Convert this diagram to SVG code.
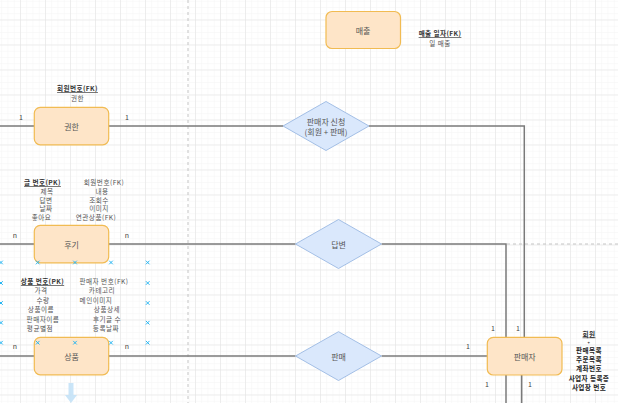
<svg xmlns="http://www.w3.org/2000/svg" width="618" height="403" viewBox="0 0 618 403">
<style>
text{font-family:"Noto Sans CJK KR","Noto Sans",sans-serif;text-anchor:middle;dominant-baseline:central}
.ent{fill:#fee5c8;stroke:#f1bb52;stroke-width:1.2}
.rel{fill:#dae8fc;stroke:#a3bfe6;stroke-width:1}
.nt{font-size:8px;fill:#555}
.at{font-size:6.6px;fill:#555;letter-spacing:0.5px}
.hd{font-size:6.6px;fill:#333;font-weight:bold;text-decoration:underline;letter-spacing:0.4px}
.bk{font-size:6.6px;fill:#222;font-weight:bold;letter-spacing:0.4px}
.card{font-size:7px;fill:#444}
.con{fill:none;stroke:#7a7a7a;stroke-width:1.5}
.dash{fill:none;stroke:#c4c4c4;stroke-width:1;stroke-dasharray:3 3}
.mk{stroke:#29b6f2;stroke-width:1;fill:none}
</style>
<defs>
<pattern id="gmin" width="6.25" height="6.25" patternUnits="userSpaceOnUse" x="20" y="19.5"><path d="M0 0H6.25M0 0V6.25" fill="none" stroke="#f1f1f1" stroke-width="0.8"/></pattern>
<pattern id="gmaj" width="25" height="25" patternUnits="userSpaceOnUse" x="20" y="19.5"><path d="M0 0H25M0 0V25" fill="none" stroke="#e2e2e2" stroke-width="1"/></pattern>
<path id="x" class="mk" d="M-1.8 -1.8L1.8 1.8M-1.8 1.8L1.8 -1.8"/>
</defs>
<rect width="618" height="403" fill="#fff"/>
<rect width="618" height="403" fill="url(#gmin)"/>
<rect width="618" height="403" fill="url(#gmaj)"/>
<line class="dash" x1="188" y1="0" x2="188" y2="403"/>
<line class="dash" x1="507" y1="244" x2="618" y2="244"/>

<g id="connectors">
<path class="con" d="M0 126H34"/>
<path class="con" d="M108.5 126H283"/>
<path class="con" d="M369 126H524.3V337.5"/>
<path class="con" d="M0 244H34"/>
<path class="con" d="M108.5 244H295.5"/>
<path class="con" d="M381.5 244H506V337.5"/>
<path class="con" d="M0 356H34"/>
<path class="con" d="M108.5 356H295.5"/>
<path class="con" d="M381.5 356H487.5"/>
<path class="con" d="M506 375V403"/>
<path class="con" d="M521.7 375V403"/>
<text class="card" x="21" y="117">1</text>
<text class="card" x="127" y="117">1</text>
<text class="card" x="15" y="235">n</text>
<text class="card" x="127" y="235">n</text>
<text class="card" x="15" y="346">n</text>
<text class="card" x="127" y="346">n</text>
<text class="card" x="468" y="346">1</text>
<text class="card" x="493" y="328">1</text>
<text class="card" x="518" y="328">1</text>
<text class="card" x="487" y="384">1</text>
<text class="card" x="530" y="384">1</text>
</g>

<g id="node-maechul">
<rect class="ent" x="326" y="11.5" width="74.5" height="37" rx="6"/>
<text class="nt" x="363" y="30">매출</text>
</g>
<g id="attr-maechul">
<text class="hd" x="440" y="33">매출 일자(FK)</text>
<text class="at" x="440" y="42.5">일 매출</text>
</g>

<g id="node-gwonhan">
<rect class="ent" x="34.3" y="107.3" width="74.4" height="37.5" rx="6"/>
<text class="nt" x="71.5" y="126">권한</text>
</g>
<g id="attr-gwonhan">
<text class="hd" x="77.5" y="88">회원번호(FK)</text>
<text class="at" x="77.5" y="97.5">권한</text>
</g>

<g id="rel-sincheong">
<polygon class="rel" points="283,126 326,101.5 369,126 326,150.5"/>
<text class="nt" x="326" y="121">판매자 신청</text>
<text class="nt" x="326" y="131">(회원 + 판매)</text>
</g>

<g id="node-hugi">
<rect class="ent" x="34.3" y="225.3" width="74.4" height="37.5" rx="6"/>
<text class="nt" x="71.5" y="244">후기</text>
</g>
<g id="attr-hugi">
<text class="hd" x="42.5" y="182.3">글 번호(PK)</text>
<text class="at" x="47" y="191">제목</text>
<text class="at" x="46" y="199.6">답변</text>
<text class="at" x="46" y="208.3">날짜</text>
<text class="at" x="41.5" y="217">좋아요</text>
<text class="at" x="104" y="182.3">회원번호(FK)</text>
<text class="at" x="102" y="191">내용</text>
<text class="at" x="99" y="199.6">조회수</text>
<text class="at" x="99" y="208.3">이미지</text>
<text class="at" x="96" y="217">연관상품(FK)</text>
</g>

<g id="rel-dapbyeon">
<polygon class="rel" points="295.5,244 338.5,219.5 381.5,244 338.5,268.5"/>
<text class="nt" x="338.5" y="244">답변</text>
</g>

<g id="node-sangpum">
<rect class="ent" x="34.3" y="337.3" width="74.4" height="37.5" rx="6"/>
<text class="nt" x="71.5" y="356">상품</text>
</g>
<g id="attr-sangpum">
<text class="hd" x="42.5" y="281">상품 번호(PK)</text>
<text class="at" x="41" y="290.4">가격</text>
<text class="at" x="43" y="299.8">수량</text>
<text class="at" x="41" y="309.2">상품이름</text>
<text class="at" x="43" y="318.6">판매자이름</text>
<text class="at" x="40" y="328">평균별점</text>
<text class="at" x="104" y="281">판매자 번호(FK)</text>
<text class="at" x="102" y="290.4">카테고리</text>
<text class="at" x="96" y="299.8">메인이미지</text>
<text class="at" x="107" y="309.2">상품상세</text>
<text class="at" x="107" y="318.6">후기글 수</text>
<text class="at" x="106" y="328">등록날짜</text>
</g>

<g id="rel-panmae">
<polygon class="rel" points="295.5,356 338.5,331.7 381.5,356 338.5,380.5"/>
<text class="nt" x="338.5" y="356">판매</text>
</g>

<g id="node-panmaeja">
<rect class="ent" x="487.3" y="337.3" width="74.7" height="37.7" rx="6"/>
<text class="nt" x="524.7" y="356">판매자</text>
</g>
<g id="attr-panmaeja">
<text class="hd" x="589" y="333.5">회원</text>
<text class="bk" x="589" y="341.6" style="font-size:4px">+</text>
<text class="bk" x="589" y="349.6">판매목록</text>
<text class="bk" x="589" y="359">주문목록</text>
<text class="bk" x="589" y="368.4">계좌번호</text>
<text class="bk" x="589" y="377.8">사업자 등록증</text>
<text class="bk" x="589" y="387.2">사업장 번호</text>
</g>

<g id="markers">
<use href="#x" x="1" y="262.5"/>
<use href="#x" x="37.7" y="262.5"/>
<use href="#x" x="75" y="262.5"/>
<use href="#x" x="111" y="262.5"/>
<use href="#x" x="147.7" y="262.5"/>
<use href="#x" x="1" y="283"/>
<use href="#x" x="147.7" y="283"/>
<use href="#x" x="1" y="303"/>
<use href="#x" x="147.7" y="303"/>
<use href="#x" x="1" y="322.7"/>
<use href="#x" x="147.7" y="322.7"/>
<use href="#x" x="1" y="342.7"/>
<use href="#x" x="37.7" y="342.7"/>
<use href="#x" x="75" y="342.7"/>
<use href="#x" x="111" y="342.7"/>
<use href="#x" x="147.7" y="342.7"/>
</g>
<polygon points="68.5,383 73.5,383 73.5,395 77,395 71,403 65,395 68.5,395" fill="#c4e2f7" opacity="0.9"/>
</svg>
